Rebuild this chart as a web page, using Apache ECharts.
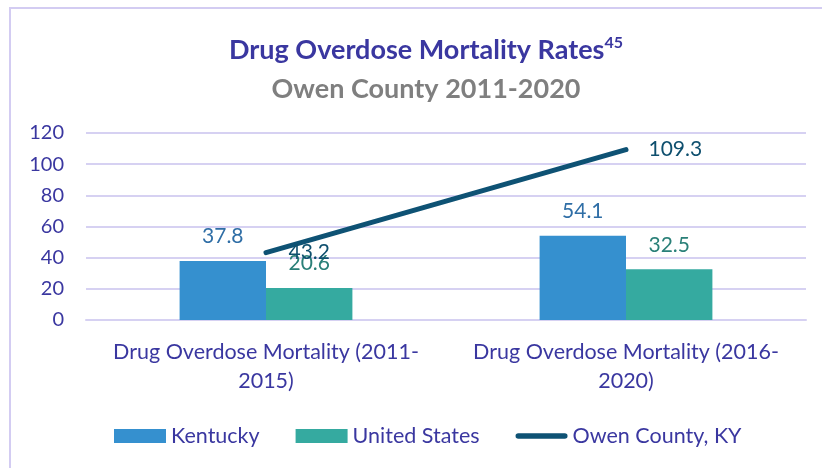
<!DOCTYPE html>
<html>
<head>
<meta charset="utf-8">
<script src="https://cdn.jsdelivr.net/npm/echarts@6/dist/echarts.min.js"></script>
<style>html,body{margin:0;padding:0;background:#fff;}#chart{width:822px;height:468px;}</style>
</head>
<body>
<div id="chart"></div>
<script>
const categories = ['Drug Overdose Mortality (2011-\n2015)', 'Drug Overdose Mortality (2016-\n2020)'];
const kentucky = [37.8, 54.1];
const unitedStates = [20.6, 32.5];
const owenCounty = [43.2, 109.3];
const yTicks = [0, 20, 40, 60, 80, 100, 120];

const FONT = 'Lato';
const LINE_COLOR = '#0e5274';
const chart = echarts.init(document.getElementById('chart'));
chart.setOption({
  animation: false,
  backgroundColor: '#fff',
  textStyle: { fontFamily: FONT },
  graphic: [{
    type: 'rect', shape: { x: 10, y: 8, width: 830, height: 480 },
    style: { fill: 'none', stroke: '#d3ccf2', lineWidth: 2 }, silent: true
  }],
  title: [{
    text: '{a|Drug Overdose Mortality Rates}{s|45}',
    left: 421, textAlign: 'center', top: 30,
    textStyle: {
      rich: {
        a: { fontFamily: FONT, fontSize: 27, fontWeight: 'bold', color: '#3a37a0', lineHeight: 31 },
        s: { fontFamily: FONT, fontSize: 16, fontWeight: 'bold', color: '#3a37a0', verticalAlign: 'top', lineHeight: 31, padding: [0, 0, 12, 0] }
      }
    }
  }, {
    text: 'Owen County 2011-2020',
    left: 421, textAlign: 'center', top: 71,
    textStyle: { fontFamily: FONT, fontSize: 27, fontWeight: 'bold', color: '#7f7f7f' }
  }],
  legend: {
    left: 109, top: 420, itemWidth: 52, itemHeight: 14, itemGap: 36,
    textStyle: { fontFamily: FONT, fontSize: 21.5, color: '#3a37a0' },
    data: [
      { name: 'Kentucky', icon: 'rect' },
      { name: 'United States', icon: 'rect' },
      { name: 'Owen County, KY', icon: 'path://M3,0 L53,0 A3,3 0 0 1 53,6 L3,6 A3,3 0 0 1 3,0 Z',
        itemStyle: { color: LINE_COLOR, opacity: 1 } }
    ]
  },
  grid: { left: 86, right: 16, top: 133, bottom: 148, containLabel: false },
  xAxis: {
    type: 'category', data: categories,
    axisLine: { show: true, lineStyle: { color: '#d6d1f2', width: 2 } },
    axisTick: { show: false },
    axisLabel: { interval: 0, fontFamily: FONT, fontSize: 21.5, color: '#3a37a0', lineHeight: 29, margin: 18 }
  },
  yAxis: {
    type: 'value', min: 0, max: 120, interval: 20,
    axisLine: { show: false }, axisTick: { show: false },
    splitLine: { lineStyle: { color: '#d6d1f2', width: 2 } },
    axisLabel: { fontFamily: FONT, fontSize: 20, color: '#3a37a0', margin: 22,
      formatter: v => yTicks.includes(v) ? String(v) : '' }
  },
  series: [{
    name: 'Kentucky', type: 'bar', data: kentucky, barGap: '0%', barCategoryGap: '52%',
    itemStyle: { color: '#3590cf' },
    label: { show: true, position: 'top', distance: 14, fontFamily: FONT, fontSize: 21, color: '#2f6ea6' }
  }, {
    name: 'United States', type: 'bar', data: unitedStates,
    itemStyle: { color: '#35aaa0' },
    label: { show: true, position: 'top', distance: 14, fontFamily: FONT, fontSize: 21, color: '#2a8078' }
  }, {
    name: 'Owen County, KY', type: 'line', data: owenCounty,
    symbol: 'circle', symbolSize: 1, showSymbol: true,
    lineStyle: { color: LINE_COLOR, width: 5, cap: 'round' },
    itemStyle: { color: 'rgba(0,0,0,0)' },
    label: { show: true, position: 'right', distance: 22, fontFamily: FONT, fontSize: 21, color: '#0e4f6e' },
    labelLayout: { hideOverlap: false },
    z: 5
  }]
});
</script>
</body>
</html>
